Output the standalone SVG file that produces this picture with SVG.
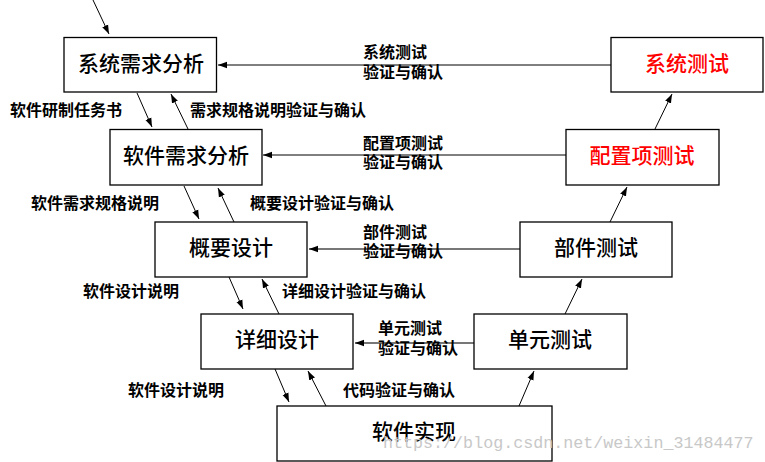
<svg xmlns="http://www.w3.org/2000/svg" width="765" height="462" viewBox="0 0 765 462">
<style>
.box{fill:#fff;stroke:#000;stroke-width:1.3}
.nt{font-family:"Noto Sans CJK SC","Liberation Sans",sans-serif;font-size:21px;font-weight:500;text-anchor:middle;fill:#000}
.red{fill:#f00}
.lb{font-family:"Noto Sans CJK SC","Liberation Sans",sans-serif;font-size:16px;font-weight:bold;fill:#000}
.ln{stroke:#000;stroke-width:1;fill:none;marker-end:url(#ah)}
.lg{stroke:#777;stroke-width:2.2;fill:none;marker-end:url(#ahg)}
.wm{font-family:"Liberation Mono",monospace;font-size:16.7px;fill:#c8c8c8}
</style>
<defs>
<marker id="ah" markerWidth="10" markerHeight="8" refX="9" refY="4" orient="auto" markerUnits="userSpaceOnUse">
<path d="M0,0.8 L9,4 L0,7.2 Z" fill="#000"/>
</marker>
<marker id="ahg" markerWidth="10" markerHeight="8" refX="9" refY="4" orient="auto" markerUnits="userSpaceOnUse">
<path d="M0,0.8 L9,4 L0,7.2 Z" fill="#000"/>
</marker>
</defs>
<rect width="765" height="462" fill="#fff"/>
<g id="connectors">
<line class="ln" x1="93" y1="0" x2="109" y2="34"/>
<line class="ln" x1="137" y1="93" x2="152" y2="127"/>
<line class="ln" x1="188" y1="129" x2="171" y2="94"/>
<line class="ln" x1="184" y1="186" x2="199" y2="219"/>
<line class="ln" x1="234" y1="222" x2="218" y2="188"/>
<line class="ln" x1="229" y1="277" x2="243" y2="309"/>
<line class="ln" x1="279" y1="314" x2="262" y2="279"/>
<line class="ln" x1="275" y1="369" x2="289" y2="402"/>
<line class="ln" x1="326" y1="406" x2="308" y2="371"/>
<line class="ln" x1="519" y1="406" x2="534" y2="371"/>
<line class="ln" x1="565" y1="314" x2="582" y2="279"/>
<line class="ln" x1="610" y1="222" x2="627" y2="187"/>
<line class="ln" x1="655" y1="129" x2="672" y2="94"/>
<line class="ln" x1="611" y1="65" x2="218" y2="65"/>
<line class="ln" x1="566" y1="155" x2="263" y2="155"/>
<line class="lg" x1="520" y1="249" x2="309" y2="249"/>
<line class="lg" x1="474" y1="343" x2="355" y2="343"/>
<text class="lb" x="363" y="58">系统测试</text>
<text class="lb" x="363" y="78">验证与确认</text>
<text class="lb" x="363" y="149">配置项测试</text>
<text class="lb" x="363" y="168">验证与确认</text>
<text class="lb" x="363" y="238">部件测试</text>
<text class="lb" x="363" y="257">验证与确认</text>
<text class="lb" x="378" y="334">单元测试</text>
<text class="lb" x="378" y="354">验证与确认</text>
<text class="lb" x="10" y="116">软件研制任务书</text>
<text class="lb" x="190" y="116">需求规格说明验证与确认</text>
<text class="lb" x="31" y="209">软件需求规格说明</text>
<text class="lb" x="250" y="209">概要设计验证与确认</text>
<text class="lb" x="83" y="297">软件设计说明</text>
<text class="lb" x="282" y="297">详细设计验证与确认</text>
<text class="lb" x="128" y="396">软件设计说明</text>
<text class="lb" x="343" y="396">代码验证与确认</text>
</g>
<g id="n1"><rect class="box" x="64" y="37.5" width="152.5" height="54.5"/><text class="nt" x="141" y="71">系统需求分析</text></g>
<g id="n2"><rect class="box" x="110" y="129.5" width="152" height="55.5"/><text class="nt" x="186" y="163">软件需求分析</text></g>
<g id="n3"><rect class="box" x="155" y="222" width="152" height="55"/><text class="nt" x="231" y="255">概要设计</text></g>
<g id="n4"><rect class="box" x="201" y="314" width="152" height="55"/><text class="nt" x="277" y="347">详细设计</text></g>
<g id="n5"><rect class="box" x="277" y="406" width="275" height="55"/><text class="nt" x="414" y="439">软件实现</text></g>
<g id="n6"><rect class="box" x="474" y="314" width="153" height="55"/><text class="nt" x="550" y="347">单元测试</text></g>
<g id="n7"><rect class="box" x="520" y="222" width="152" height="55"/><text class="nt" x="596" y="255">部件测试</text></g>
<g id="n8"><rect class="box" x="566" y="129.5" width="153" height="55.5"/><text class="nt red" x="642" y="163">配置项测试</text></g>
<g id="n9"><rect class="box" x="611" y="37.5" width="152" height="54.5"/><text class="nt red" x="687" y="71">系统测试</text></g>
<text class="wm" x="383" y="448">https://blog.csdn.net/weixin_31484477</text>
</svg>
